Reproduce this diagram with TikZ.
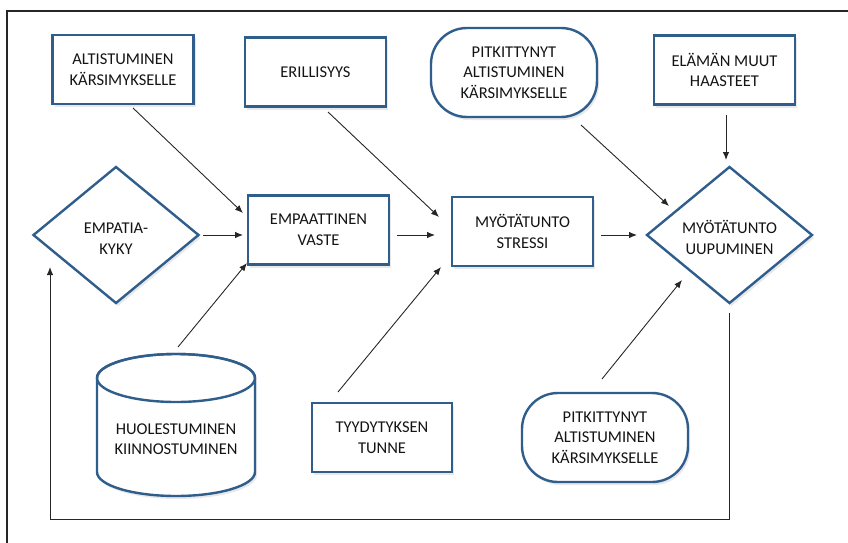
\documentclass[tikz,border=0pt]{standalone}
\usepackage{fontspec}
\setmainfont{Carlito}
\usetikzlibrary{shapes.geometric,arrows.meta,calc,shadows}
\definecolor{boxblue}{HTML}{2F5E8C}
\definecolor{txtc}{HTML}{141414}
\definecolor{linec}{HTML}{262626}
\newcommand{\dropby}[2]{\raisebox{-#1}[\height][\depth]{\begin{tabular}{@{}c@{}}#2\end{tabular}}}
\begin{document}
\begin{tikzpicture}[x=1pt,y=-1pt,
  every node/.style={font=\fontsize{16.5}{20.5}\selectfont, text=txtc, align=center, inner sep=0pt},
  shad/.style={drop shadow={opacity=0.18,shadow xshift=2pt,shadow yshift=-3pt}},
  sbox/.style={draw=boxblue, line width=2.4pt, fill=white, shad},
  rectbox/.style={sbox, rectangle, minimum width=141pt, minimum height=69pt},
  roundbox/.style={sbox, rectangle, rounded corners=36pt, minimum width=166pt, minimum height=89pt},
  diabox/.style={sbox, diamond, aspect=1.2, minimum width=166pt, minimum height=137pt},
  arr/.style={draw=linec, line width=0.9pt, -{Latex[length=8pt,width=6.5pt]}},
  frame/.style={draw=linec, line width=1.2pt}]
\useasboundingbox (0,0) rectangle (848,543);
% outer frame
\draw[frame] (7,543) -- (7,11) -- (848,11);
% nodes
\node[rectbox] (alt) at (123,69.5) {ALTISTUMINEN\\KÄRSIMYKSELLE};
\node[rectbox] (eri) at (315.5,72) {ERILLISYYS};
\node[roundbox] (pit1) at (514,72.5) {PITKITTYNYT\\ALTISTUMINEN\\KÄRSIMYKSELLE};
\node[rectbox] (ela) at (724.5,70) {ELÄMÄN MUUT\\HAASTEET};
\node[diabox] (empk) at (116,235) {\dropby{5pt}{EMPATIA-\\KYKY}};
\node[rectbox] (emp) at (318.5,230) {EMPAATTINEN\\VASTE};
\node[rectbox] (str) at (522.5,231.5) {MYÖTÄTUNTO\\STRESSI};
\node[diabox] (uup) at (729.5,235) {\dropby{5pt}{MYÖTÄTUNTO\\UUPUMINEN}};
% cylinder
\path[sbox] (97,378) -- (97,472) .. controls (97,485.25) and (132.4,496) .. (176,496)
  .. controls (219.6,496) and (255,485.25) .. (255,472) -- (255,378)
  .. controls (255,364.75) and (219.6,354) .. (176,354)
  .. controls (132.4,354) and (97,364.75) .. (97,378) -- cycle;
\draw[boxblue, line width=2.4pt] (176,378) ellipse [x radius=79, y radius=24];
\node (cyl) at (176,439) {HUOLESTUMINEN\\KIINNOSTUMINEN};
\node[rectbox, minimum width=140pt] (tyy) at (382,437.5) {TYYDYTYKSEN\\TUNNE};
\node[roundbox] (pit2) at (605,437.5) {PITKITTYNYT\\ALTISTUMINEN\\KÄRSIMYKSELLE};
% connectors
\draw[arr] ($(alt.center)+(10,38.5)$) -- ($(emp.center)+(-75.5,-17)$);
\draw[arr] ($(eri.center)+(12.5,40)$) -- ($(str.center)+(-83.5,-14.5)$);
\draw[arr] ($(empk.center)+(87,0)$) -- ($(emp.center)+(-75.5,5)$);
\draw[arr] ($(cyl.center)+(2,-92)$) -- ($(emp.center)+(-71.5,33)$);
\draw[arr] ($(emp.center)+(78.5,5)$) -- ($(str.center)+(-87.5,3.5)$);
\draw[arr] ($(tyy.center)+(-44,-45.5)$) -- ($(str.center)+(-81.5,35.5)$);
\draw[arr] ($(str.center)+(78.5,3.5)$) -- ($(uup.center)+(-92.5,0)$);
\draw[arr] ($(pit1.center)+(67,52.5)$) -- ($(uup.center)+(-60.5,-29)$);
\draw[arr] ($(ela.center)+(1.5,45)$) -- ($(uup.center)+(-3.5,-75)$);
\draw[arr] ($(pit2.center)+(-3,-58.5)$) -- ($(uup.center)+(-47.5,45)$);
\coordinate (fbk) at (50,519);
\draw[arr] ($(uup.center)+(-0.5,78)$) |- (fbk) -- ($(empk.center)+(-66,32)$);
\end{tikzpicture}
\end{document}
